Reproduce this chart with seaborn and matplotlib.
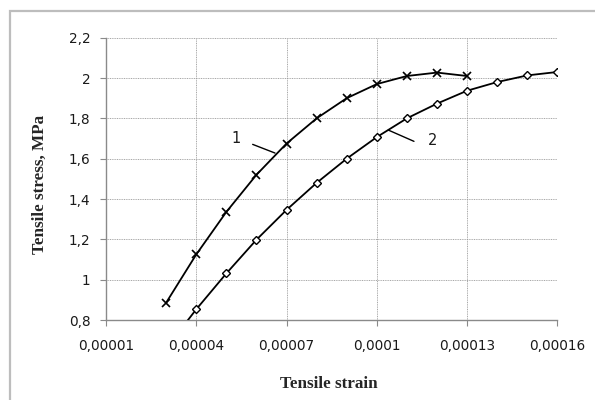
import matplotlib
matplotlib.use("Agg")
import matplotlib.pyplot as plt
from matplotlib.patches import Rectangle
from matplotlib.ticker import FixedLocator
import pandas as pd
import seaborn as sns

# Strain values (x) and tensile stress (MPa) for the two specimens
strain_1 = [0.00003, 0.00004, 0.00005, 0.00006, 0.00007, 0.00008,
            0.00009, 0.00010, 0.00011, 0.00012, 0.00013]
stress_1 = [0.886, 1.125, 1.336, 1.520, 1.675, 1.800,
            1.900, 1.970, 2.010, 2.027, 2.010]

strain_2 = [0.00003, 0.00004, 0.00005, 0.00006, 0.00007, 0.00008, 0.00009,
            0.00010, 0.00011, 0.00012, 0.00013, 0.00014, 0.00015, 0.00016]
stress_2 = [0.660, 0.853, 1.031, 1.198, 1.346, 1.480, 1.600,
            1.707, 1.800, 1.873, 1.937, 1.980, 2.013, 2.030]

x_ticks = [0.00001, 0.00004, 0.00007, 0.00010, 0.00013, 0.00016]
x_tick_labels = ["0,00001", "0,00004", "0,00007", "0,0001", "0,00013", "0,00016"]
y_ticks = [0.8, 1.0, 1.2, 1.4, 1.6, 1.8, 2.0, 2.2]
y_tick_labels = ["0,8", "1", "1,2", "1,4", "1,6", "1,8", "2", "2,2"]

curve_labels = ["1", "2"]

sns.set_theme(style="white")
plt.rcParams["font.family"] = ["DejaVu Sans"]

df1 = pd.DataFrame({"strain": strain_1, "stress": stress_1})
df2 = pd.DataFrame({"strain": strain_2, "stress": stress_2})

fig = plt.figure(figsize=(5.95, 4.0), dpi=100)
fig.patch.set_facecolor("white")
# outer chart frame
fig.patches.append(Rectangle((10 / 595, -0.1), 1.2, (400 - 11) / 400 + 0.1,
                             transform=fig.transFigure, fill=False,
                             edgecolor="#bdbdbd", linewidth=1.6, zorder=0))

ax = fig.add_axes([106 / 595, 0.2, (557.3 - 106) / 595, (320 - 37.7) / 400])
ax.set_facecolor("white")

sns.lineplot(data=df1, x="strain", y="stress", ax=ax, color="black",
             linewidth=1.3, marker="x", markersize=6, markeredgewidth=1.2,
             markeredgecolor="black", zorder=3)
sns.lineplot(data=df2, x="strain", y="stress", ax=ax, color="black",
             linewidth=1.3, marker="D", markersize=4.3, markeredgewidth=1.0,
             markerfacecolor="white", markeredgecolor="black", zorder=3)

ax.set_xlim(0.00001, 0.00016)
ax.set_ylim(0.8, 2.2)
ax.xaxis.set_major_locator(FixedLocator(x_ticks))
ax.yaxis.set_major_locator(FixedLocator(y_ticks))
ax.set_xticklabels(x_tick_labels)
ax.set_yticklabels(y_tick_labels)

ax.grid(True, color="#9a9a9a", linestyle=(0, (1.2, 0.9)), linewidth=0.6)
ax.set_axisbelow(True)
for side in ("top", "right"):
    ax.spines[side].set_visible(False)
for side in ("left", "bottom"):
    ax.spines[side].set_color("#8a8a8a")
    ax.spines[side].set_linewidth(1.0)

ax.tick_params(axis="both", which="major", direction="out", length=4.3,
               width=0.8, color="#8a8a8a", labelsize=9.8, labelcolor="#1a1a1a")
ax.tick_params(axis="x", pad=9.5, bottom=True)
ax.tick_params(axis="y", pad=7.0, left=True)

ax.set_xlabel("")
ax.set_ylabel("")

# curve numbers with leader lines
ax.text(0.0000531, 1.70, curve_labels[0], fontsize=10.5, ha="center", va="center",
        color="#1a1a1a")
ax.plot([0.00005875, 0.00006617], [1.671, 1.628], color="black", linewidth=1.0,
        zorder=2)
ax.text(0.00011844, 1.689, curve_labels[1], fontsize=10.5, ha="center", va="center",
        color="#1a1a1a")
ax.plot([0.00010382, 0.00011236], [1.742, 1.686], color="black", linewidth=1.0,
        zorder=2)

fig.text(40 / 595, 1 - 184 / 400, "Tensile stress, MPa", rotation=90,
         ha="center", va="center", fontsize=12.3, fontweight="bold",
         family=["Liberation Serif", "DejaVu Serif"])
fig.text(328.5 / 595, 1 - 384 / 400, "Tensile strain", ha="center", va="center",
         fontsize=12.3, fontweight="bold", family=["Liberation Serif", "DejaVu Serif"])

fig.savefig("out.png", dpi=100, facecolor="white")
